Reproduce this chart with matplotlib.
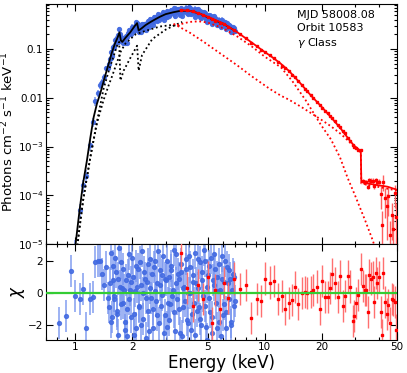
import matplotlib
matplotlib.use("Agg")
import matplotlib.pyplot as plt
from matplotlib.ticker import FixedLocator, FixedFormatter, LogLocator, NullFormatter

# ---------------- data ----------------
blue_energy = [0.823, 0.896, 0.949, 1.00, 1.054, 1.093, 1.14, 1.19, 1.24, 1.276, 1.31, 1.345, 1.384, 1.42, 1.45, 1.48,
               1.51, 1.535, 1.56, 1.585, 1.61, 1.64, 1.665, 1.69, 1.72, 1.75,
               1.78, 1.81, 1.84, 1.87, 1.90, 1.93, 1.96, 2.00, 2.03, 2.07,
               2.10, 2.14, 2.18, 2.21, 2.25, 2.29, 2.33, 2.37, 2.41, 2.45,
               2.49, 2.54, 2.58, 2.62, 2.67, 2.71, 2.76, 2.81, 2.86, 2.91,
               2.96, 3.01, 3.06, 3.11, 3.17, 3.22, 3.28, 3.33, 3.39, 3.45,
               3.51, 3.57, 3.63, 3.69, 3.76, 3.82, 3.89, 3.95, 4.02, 4.09,
               4.16, 4.23, 4.31, 4.38, 4.46, 4.53, 4.61, 4.69, 4.77, 4.86,
               4.94, 5.03, 5.11, 5.20, 5.29, 5.38, 5.48, 5.57, 5.67, 5.77,
               5.87, 5.97, 6.07, 6.18, 6.28, 6.39, 6.50, 6.62, 6.73, 6.85,
               6.97]
blue_chi = [-1.87, -1.46, 1.38, -0.19, -0.4, 0.27, -2.16, -0.4, -0.25, 1.94, 1.98, 2.0, 1.2, 0.5, 1.6, -0.3,
            -0.9, 2.46, -1.5, 0.8, -0.2, 1.3, -1.1, -2.6, 0.4, 1.9,
            -0.6, 0.2, -1.8, -2.7, 1.1, -0.4, 0.7, 2.2, -1.3, 0.1,
            -2.2, 1.5, -0.8, 0.5, 2.6, -1.6, 0.9, -0.3, 1.8, -2.4,
            0.3, 1.2, -1.0, 2.0, -0.5, 0.6, -1.9, 1.4, -0.1, 2.3,
            -1.4, 0.8, -2.1, 1.0, -0.7, 1.7, 0.2, -1.2, 2.4, -0.4,
            0.9, -2.5, 1.3, -0.9, 0.4, 2.1, -1.7, 0.0, 1.6, -2.3,
            0.7, -0.6, 2.5, -1.1, 0.3, 1.9, -2.0, 0.8, 2.7, -0.8,
            -2.9, 1.1, -0.3, 2.2, -1.5, 0.5, 1.5, -2.2, 0.1, 1.8,
            -2.7, 0.9, -0.7, 2.0, -1.2, 0.6, 1.4, -1.8, 0.2, 1.0,
            -0.5]
blue_flux = [3e-9, 4e-8, 5e-7, 8e-6, 5e-5, 1.6e-4, 2.5e-4, 1.1e-3, 3.2e-3, 8.5e-3, 0.0125, 0.018, 0.021, 0.027, 0.040, 0.040,
             0.050, 0.085, 0.072, 0.108, 0.118, 0.164, 0.147, 0.141, 0.208, 0.173,
             0.134, 0.159, 0.139, 0.131, 0.216, 0.200, 0.240, 0.290, 0.246, 0.302,
             0.275, 0.330, 0.231, 0.264, 0.320, 0.253, 0.320, 0.308, 0.370, 0.287,
             0.365, 0.400, 0.358, 0.456, 0.400, 0.448, 0.386, 0.505, 0.472, 0.570,
             0.455, 0.550, 0.452, 0.578, 0.523, 0.620, 0.573, 0.522, 0.677, 0.573,
             0.638, 0.499, 0.665, 0.576, 0.635, 0.710, 0.546, 0.620, 0.687, 0.512,
             0.630, 0.565, 0.676, 0.521, 0.562, 0.600, 0.443, 0.528, 0.570, 0.444,
             0.367, 0.480, 0.426, 0.485, 0.367, 0.414, 0.425, 0.317, 0.368, 0.400,
             0.280, 0.356, 0.309, 0.359, 0.279, 0.307, 0.313, 0.240, 0.269, 0.273,
             0.236]
blue_relerr = [0.9, 0.9, 0.9, 0.5, 0.35, 0.3, 0.3, 0.25, 0.2, 0.2, 0.18, 0.16, 0.15, 0.14, 0.13, 0.12] + [0.11] * 91

# second, interleaved set of SXT bins
blue2_energy = [1.52, 1.548, 1.572, 1.598, 1.625, 1.652, 1.678, 1.705, 1.735, 1.765,
                1.795, 1.825, 1.855, 1.885, 1.915, 1.945, 1.98, 2.015, 2.05, 2.085,
                2.12, 2.16, 2.195, 2.23, 2.27, 2.31, 2.35, 2.39, 2.43, 2.47,
                2.515, 2.56, 2.60, 2.645, 2.69, 2.735, 2.785, 2.835, 2.885, 2.935,
                2.985, 3.035, 3.085, 3.14, 3.195, 3.25, 3.305, 3.36, 3.42, 3.48,
                3.54, 3.60, 3.66, 3.725, 3.79, 3.855, 3.92, 3.985, 4.055, 4.125,
                4.195, 4.27, 4.345, 4.42, 4.495, 4.57, 4.65, 4.73, 4.815, 4.90,
                4.985, 5.07, 5.155, 5.245, 5.335, 5.43, 5.525, 5.62, 5.72, 5.82,
                5.92, 6.02, 6.125, 6.23, 6.335, 6.445, 6.56, 6.675, 6.79, 6.91]
blue2_chi = [0.6, -1.8, 1.7, -0.4, 2.2, -1.3, 0.9, 2.8, -0.7, 0.3,
             1.5, -2.3, 0.8, -1.0, 2.4, 0.2, -1.5, 1.0, -2.6, 1.7,
             0.4, -0.9, 1.9, -2.0, 0.0, 1.3, -2.8, 0.7, -1.1, 2.1,
             -0.3, -2.2, 1.6, 0.1, -1.4, 2.6, 0.5, -0.8, 1.1, -2.5,
             0.9, 2.0, -0.6, -1.7, 1.4, -0.2, 2.7, -2.4, 0.6, 1.2,
             -1.0, 1.8, -2.7, 0.3, -0.5, 1.5, -1.9, 2.3, 0.0, -1.3,
             1.1, -2.6, 0.6, 2.1, -0.9, -1.6, 1.3, -0.2, 2.0, -2.1,
             0.4, 1.7, -1.2, -2.5, 0.8, 2.4, -0.6, 1.0, -1.8, 0.2,
             2.3, -1.4, 0.7, -2.2, 1.6, -0.4, 0.9, -2.0, 1.2, -0.8]
blue2_flux = [0.063, 0.066, 0.105, 0.108, 0.155, 0.139, 0.193, 0.257, 0.151, 0.145,
              0.168, 0.133, 0.186, 0.175, 0.244, 0.221, 0.207, 0.281, 0.230, 0.358,
              0.341, 0.223, 0.290, 0.222, 0.278, 0.326, 0.241, 0.341, 0.306, 0.409,
              0.356, 0.313, 0.446, 0.413, 0.376, 0.528, 0.473, 0.440, 0.528, 0.400,
              0.552, 0.609, 0.509, 0.471, 0.615, 0.553, 0.693, 0.466, 0.613, 0.652,
              0.555, 0.698, 0.482, 0.633, 0.595, 0.694, 0.526, 0.734, 0.615, 0.542,
              0.647, 0.462, 0.597, 0.652, 0.506, 0.458, 0.563, 0.482, 0.551, 0.387,
              0.466, 0.500, 0.389, 0.332, 0.431, 0.467, 0.362, 0.400, 0.308, 0.356,
              0.403, 0.293, 0.338, 0.255, 0.338, 0.281, 0.300, 0.227, 0.285, 0.234]
blue2_relerr = [0.11] * 90

red_energy = [3.62, 3.9, 4.17, 4.45, 4.72, 5.0, 5.25, 5.5, 5.78, 6.1, 6.42, 6.87,
              7.4, 7.93, 8.5, 9.06, 9.6, 10.1, 10.67, 11.2, 11.77, 12.4,
              12.8, 13.4, 14.0, 14.4, 15.05, 15.7, 16.4, 16.8, 17.5, 18.1,
              18.9, 19.5, 20.2, 20.9, 21.5, 22.2, 22.8, 23.5, 24.3, 25.0,
              25.8, 26.6, 27.6, 28.3, 29.2, 29.8, 30.4, 31.3, 32.1, 33.1,
              33.8, 34.4, 35.0, 35.7, 36.4, 37.2, 37.9, 38.6, 39.4, 40.2,
              41.0, 41.5, 42.4, 43.0, 44.1, 45.0, 45.9, 46.9, 47.9, 48.9, 49.3]
red_chi = [2.5, 0.3, -0.8, 0.5, -0.4, 1.0, -1.9, 0.2, -1.0, 0.6, -0.3, 0.9,
           0.27, 0.48, -1.56, -0.35, -0.52, 0.9, 0.65, 0.72, -0.35, -0.19,
           -0.98, -0.6, -0.44, 0.35, -0.69, -0.02, 0.08, -0.02, 0.04, 0.2,
           0.4, -1.0, 0.73, -0.25, -0.25, 0.33, 1.17, 0.6, -0.25, 1.06,
           -0.81, -0.19, 1.06, 0.4, -1.73, -1.44, -0.6, -0.1, 1.5, 0.44,
           0.17, 0.17, -1.19, 1.1, 0.9, 1.0, -0.56, 1.23, 0.6, 1.0,
           -1.19, -2.6, 1.23, -0.56, -1.3, -0.77, -1.9, -0.35, -0.44, -0.56, -2.3]
red_flux = [0.63, 0.625, 0.59, 0.54, 0.49, 0.45, 0.41, 0.38, 0.35, 0.32, 0.285, 0.245,
            0.204, 0.169, 0.135, 0.114, 0.097, 0.086, 0.0745, 0.064, 0.0535, 0.0455,
            0.041, 0.0355, 0.0297, 0.0266, 0.0216, 0.0182, 0.0151, 0.0136, 0.0114, 0.0099,
            0.0083, 0.0071, 0.0063, 0.00542, 0.00478, 0.0042, 0.00378, 0.00328, 0.00279, 0.00252,
            0.00212, 0.00187, 0.00152, 0.00132, 0.00108, 0.00098, 0.00093, 0.00085, 0.00084, 0.000195,
            0.000188, 0.000184, 0.00015, 0.000205, 0.0002, 0.000198, 0.000155, 0.000205, 0.000185, 0.00019,
            0.000105, 2.5e-5, 0.00019, 8.7e-5, 6e-5, 9.6e-5, 1.5e-5, 4e-5, 2e-5, 1.1e-4, 3.5e-5]
red_relerr = [0.012] * 51 + [0.12] * 11 + [0.5, 0.9, 0.35, 0.6, 0.8, 0.6, 0.95, 0.7, 0.9, 0.5, 0.95]

black_model_energy = [1.00, 1.05, 1.10, 1.15, 1.20, 1.25, 1.30, 1.36, 1.44, 1.50, 1.56, 1.62, 1.67, 1.71, 1.74,
                      1.77, 1.84, 1.95, 2.05, 2.12, 2.16, 2.25, 2.35, 2.50, 2.65, 2.80, 3.00, 3.30, 3.60, 4.00,
                      4.50, 5.00, 6.00, 7.00]
black_model_flux = [9e-6, 4.5e-5, 1.8e-4, 5e-4, 1.5e-3, 4e-3, 7.5e-3, 0.013, 0.029, 0.050, 0.085, 0.13, 0.17, 0.22, 0.15,
                    0.14, 0.17, 0.22, 0.29, 0.34, 0.24, 0.27, 0.31, 0.36, 0.41, 0.46, 0.52, 0.57, 0.61, 0.61,
                    0.54, 0.45, 0.335, 0.235]
black_comp1_energy = [1.00, 1.05, 1.10, 1.20, 1.30, 1.41, 1.50, 1.58, 1.662, 1.705, 1.73, 1.80, 1.95, 2.12, 2.16,
                      2.25, 2.548, 3.00, 3.30, 3.67]
black_comp1_flux = [4e-6, 2e-5, 8e-5, 6e-4, 3.2e-3, 0.0153, 0.035, 0.065, 0.117, 0.14, 0.0226, 0.036, 0.065, 0.117, 0.036,
                    0.075, 0.16, 0.25, 0.30, 0.36]
black_comp2_energy = [1.00, 1.05, 1.10, 1.20, 1.30, 1.41, 1.50, 1.56, 1.69, 1.74, 1.84, 2.08, 2.30, 2.55, 2.80, 3.20, 3.55]
black_comp2_flux = [4e-6, 2e-5, 8e-5, 6e-4, 3.0e-3, 0.009, 0.018, 0.027, 0.065, 0.09, 0.13, 0.20, 0.23, 0.26, 0.29, 0.31, 0.30]

red_model_energy = [3.60, 4.00, 4.50, 5.00, 6.00, 7.18, 8.50, 10.0, 10.7, 12.1, 13.4, 15.5, 17.5, 19.8, 22.4,
                    25.3, 27.5, 29.6, 31.3, 31.8, 32.2, 32.4, 34.0, 36.4, 40.0, 44.5, 50.0]
red_model_flux = [0.63, 0.61, 0.54, 0.46, 0.34, 0.22, 0.138, 0.087, 0.073, 0.051, 0.036, 0.0195, 0.0113, 0.0068, 0.0040,
                  0.0023, 0.0015, 0.00105, 0.00088, 0.00082, 0.00080, 0.00019, 0.00018, 0.00017, 0.00016, 0.00015, 0.00013]
red_comp1_energy = [3.45, 4.0, 4.5, 5.0, 6.0, 7.18, 8.5, 10.0, 12.2, 14.0, 16.5, 19.8, 22.4, 25.0, 27.4, 30.0, 34.0, 37.2, 40.0]
red_comp1_flux = [0.31, 0.36, 0.37, 0.35, 0.27, 0.18, 0.115, 0.07, 0.042, 0.022, 0.0088, 0.0028, 0.0014, 6e-4, 2.3e-4,
                  1e-4, 3e-5, 1.2e-5, 5e-6]
red_comp2_energy = [3.30, 4.0, 4.77, 6.0, 7.18, 8.5, 10.7, 12.2, 13.4, 15.5, 17.5, 19.8, 22.4, 25.3, 28.0, 30.0,
                    31.8, 32.2, 32.4, 40.0, 50.0]
red_comp2_flux = [0.33, 0.22, 0.14, 0.075, 0.046, 0.028, 0.015, 0.011, 0.0092, 0.0066, 0.0049, 0.0036, 0.0026, 0.0018,
                  0.00125, 0.00095, 0.00079, 0.00076, 0.000175, 0.000148, 0.000125]

x_ticks = [1, 2, 5, 10, 20, 50]
x_tick_labels = ["1", "2", "5", "10", "20", "50"]
y_ticks = [1e-5, 1e-4, 1e-3, 1e-2, 1e-1]
y_tick_labels = ["$10^{-5}$", "$10^{-4}$", "$10^{-3}$", "0.01", "0.1"]
info_text = "MJD 58008.08\nOrbit 10583\n$\\gamma$ Class"

# ---------------- figure ----------------
BLUE = "#4169e1"
BLUE_ERR = "#7896ef"
RED = "#ff0000"
DOT = (0, (1, 1.5))

fig = plt.figure(figsize=(4.07, 3.73), dpi=100)
ax1 = fig.add_axes([0.113, 0.3458, 0.8624, 0.6435])
ax2 = fig.add_axes([0.113, 0.0898, 0.8624, 0.2560], sharex=ax1)

blue_ferr = [f * r for f, r in zip(blue_flux, blue_relerr)]
blue2_ferr = [f * r for f, r in zip(blue2_flux, blue2_relerr)]
red_ferr = [f * r for f, r in zip(red_flux, red_relerr)]

for e, f, fe in ((blue_energy, blue_flux, blue_ferr), (blue2_energy, blue2_flux, blue2_ferr)):
    ax1.errorbar(e, f, yerr=fe, fmt="o", ms=2.8, color=BLUE, ecolor=BLUE_ERR,
                 elinewidth=1.2, alpha=0.9, capsize=0, zorder=2)
ax1.plot(black_model_energy, black_model_flux, color="black", lw=1.3, zorder=4)
ax1.plot(black_comp1_energy, black_comp1_flux, color="black", lw=1.3, ls=DOT, zorder=4)
ax1.plot(black_comp2_energy, black_comp2_flux, color="black", lw=1.3, ls=DOT, zorder=4)
ax1.errorbar(red_energy, red_flux, yerr=red_ferr, fmt="s", ms=2.0, color=RED,
             ecolor="#ff6060", elinewidth=1.0, capsize=0, zorder=5)
ax1.plot(red_model_energy, red_model_flux, color=RED, lw=1.3, zorder=6)
ax1.plot(red_comp1_energy, red_comp1_flux, color=RED, lw=1.3, ls=DOT, zorder=6)
ax1.plot(red_comp2_energy, red_comp2_flux, color=RED, lw=1.3, ls=DOT, zorder=6)

ax1.set_xscale("log")
ax1.set_yscale("log")
ax1.set_xlim(0.7, 50)
ax1.set_ylim(1e-5, 0.84)
ax1.yaxis.set_major_locator(FixedLocator(y_ticks))
ax1.yaxis.set_major_formatter(FixedFormatter(y_tick_labels))
ax1.yaxis.set_minor_locator(LogLocator(base=10, subs=[2, 3, 4, 5, 6, 7, 8, 9], numticks=20))
ax1.yaxis.set_minor_formatter(NullFormatter())
ax1.set_ylabel("Photons cm$^{-2}$ s$^{-1}$ keV$^{-1}$", fontsize=9.5)
ax1.yaxis.set_label_coords(-0.086, 0.47)
ax1.text(0.715, 0.975, info_text, transform=ax1.transAxes, fontsize=8, va="top", ha="left",
         linespacing=1.35)
plt.setp(ax1.get_xticklabels(), visible=False)

ax2.errorbar(blue_energy, blue_chi, yerr=1.0, fmt="o", ms=2.8, color=BLUE,
             ecolor=BLUE_ERR, elinewidth=1.2, alpha=0.85, capsize=0, zorder=2)
ax2.errorbar(blue2_energy, blue2_chi, yerr=1.0, fmt="o", ms=2.8, color=BLUE,
             ecolor=BLUE_ERR, elinewidth=1.2, alpha=0.85, capsize=0, zorder=2)
ax2.errorbar(red_energy, red_chi, yerr=1.0, fmt="s", ms=2.0, color=RED,
             ecolor="#ff7070", elinewidth=1.0, capsize=0, zorder=3)
ax2.axhline(0, color="#33cc33", lw=1.6, zorder=5)
ax2.set_ylim(-2.9, 3.05)
ax2.set_yticks([-2, 0, 2])
ax2.set_xscale("log")
ax2.set_xlim(0.7, 50)
ax2.xaxis.set_major_locator(FixedLocator(x_ticks))
ax2.xaxis.set_major_formatter(FixedFormatter(x_tick_labels))
ax2.xaxis.set_minor_locator(LogLocator(base=10, subs=[2, 3, 4, 5, 6, 7, 8, 9], numticks=20))
ax2.xaxis.set_minor_formatter(NullFormatter())
ax2.set_xlabel("Energy (keV)", fontsize=12, labelpad=1)
ax2.set_ylabel("$\\chi$", fontsize=12)
ax2.yaxis.set_label_coords(-0.054, 0.5)

for ax in (ax1, ax2):
    ax.tick_params(which="both", direction="in", top=True, right=True, labelsize=7.5, width=0.8)
    ax.tick_params(which="major", length=5, pad=2)
    ax.tick_params(which="minor", length=2.5)
    for sp in ax.spines.values():
        sp.set_linewidth(0.8)

fig.savefig("out.png", dpi=100)
